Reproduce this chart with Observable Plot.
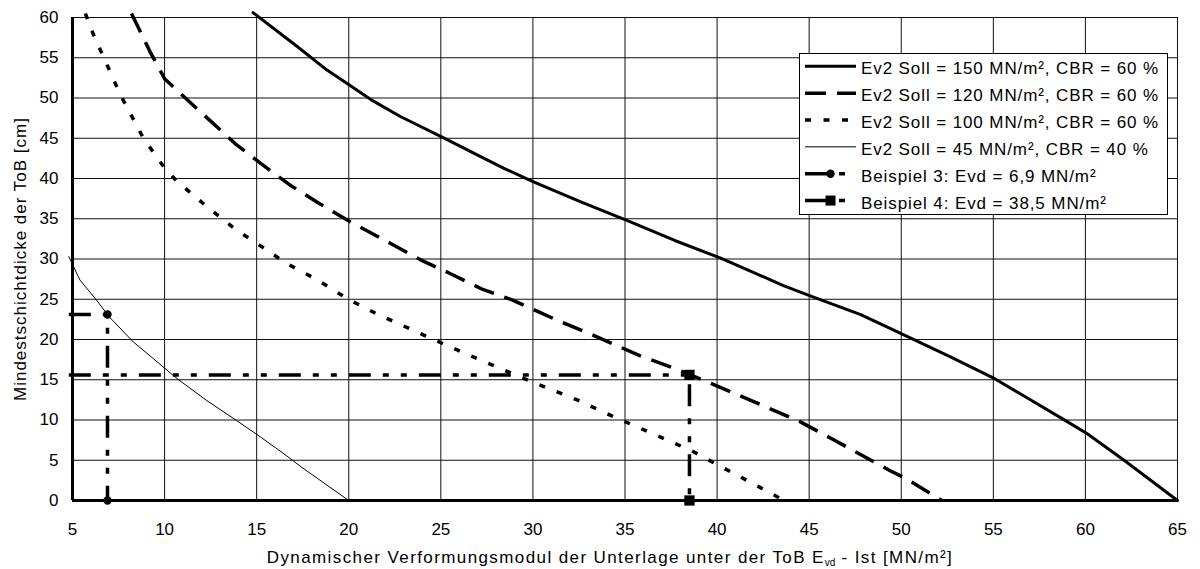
<!DOCTYPE html>
<html>
<head>
<meta charset="utf-8">
<script src="https://cdn.jsdelivr.net/npm/d3@7"></script>
<script src="https://cdn.jsdelivr.net/npm/@observablehq/plot@0.6"></script>
<style>
  html, body { margin: 0; padding: 0; background: #fff; }
  #chart { position: relative; width: 1200px; height: 569px; }
  svg { font-family: "Liberation Sans", Arial, sans-serif; }
</style>
</head>
<body>
<div id="chart"></div>
<script>
// ---- data ----
const xTicks = [5, 10, 15, 20, 25, 30, 35, 40, 45, 50, 55, 60, 65];
const yTicks = [0, 5, 10, 15, 20, 25, 30, 35, 40, 45, 50, 55, 60];

const ev150 = [[14.8,60.6],[17.2,56.4],[18.8,53.5],[21.2,49.8],[22.8,47.7],[25.1,45.1],[27.0,42.9],[28.4,41.3],[30.0,39.6],[32.6,37.1],[35.1,34.8],[37.7,32.3],[40.2,30.1],[43.6,26.7],[45.2,25.3],[47.8,23.1],[50.2,20.5],[52.7,17.8],[55.1,15.1],[57.1,12.4],[58.9,9.95],[60.1,8.3],[62.1,5.0],[65.0,0]];
const ev120 = [[8.2,60.5],[9.2,55.8],[10.0,52.4],[11.6,49.0],[13.9,44.2],[15.2,41.9],[16.8,39.2],[18.4,36.9],[20.1,34.6],[22.3,31.9],[23.9,29.9],[25.5,28.2],[27.2,26.3],[28.9,24.9],[31.5,22.2],[33.2,20.6],[35.8,18.0],[37.7,16.4],[39.3,14.9],[40.9,13.35],[44.5,9.8],[46.2,7.7],[49.4,3.7],[50.2,2.8],[52.2,0]];
const ev100 = [[5.7,60.5],[6.0,58.6],[6.8,54.5],[7.6,50.4],[8.85,45.0],[10.0,41.3],[10.7,39.6],[12.3,36.5],[13.9,33.6],[15.7,30.9],[16.5,29.6],[18.3,27.4],[19.9,25.1],[21.5,23.2],[23.3,21.35],[25.1,19.5],[27.2,17.4],[29.1,15.55],[30.0,14.7],[32.4,12.5],[34.1,10.7],[36.8,8.0],[38.6,6.2],[40.1,4.35],[43.0,0.8],[43.4,0.3]];
const ev45 = [[4.8,30.3],[5.4,27.4],[6.3,24.9],[7.0,22.8],[8.3,19.7],[9.4,17.6],[10.7,15.1],[12.3,12.4],[13.9,9.95],[15.2,7.9],[16.6,5.6],[17.4,4.2],[20.0,0]];
const bsp3Line = [[4.8,23.1],[6.9,23.1],[6.9,0]];
const bsp3Pts  = [[6.9,23.1],[6.9,0]];
const bsp4Line = [[4.8,15.6],[38.5,15.6],[38.5,0]];
const bsp4Pts  = [[38.5,15.6],[38.5,0]];

const legendLabels = [
  "Ev2 Soll = 150 MN/m², CBR = 60 %",
  "Ev2 Soll = 120 MN/m², CBR = 60 %",
  "Ev2 Soll = 100 MN/m², CBR = 60 %",
  "Ev2 Soll = 45 MN/m², CBR = 40 %",
  "Beispiel 3: Evd = 6,9 MN/m²",
  "Beispiel 4: Evd = 38,5 MN/m²"
];

// ---- styles ----
const styles = [
  {w: 3,   dash: null},
  {w: 3.5, dash: "21,11"},
  {w: 3.5, dash: "6,12.5"},
  {w: 1,   dash: null},
  {w: 3.5, dash: "22,12,6,12,6,12", marker: "circle"},
  {w: 3.5, dash: "22,12,6,12,6,12", marker: "square"}
];
const BLACK = "#000";
const FS = 17;

const plot = Plot.plot({
  width: 1200,
  height: 569,
  marginLeft: 72,
  marginRight: 23,
  marginTop: 17,
  marginBottom: 69,
  style: {fontFamily: "'Liberation Sans', Arial, sans-serif", fontSize: FS + "px", color: "#000", background: "#fff", overflow: "visible"},
  x: {domain: [5, 65], ticks: xTicks},
  y: {domain: [0, 60], ticks: yTicks},
  marks: [
    Plot.gridX(xTicks, {stroke: "#111", strokeOpacity: 1, strokeWidth: 1}),
    Plot.gridY(yTicks, {stroke: "#111", strokeOpacity: 1, strokeWidth: 1}),
    Plot.axisX(xTicks, {tickSize: 0, tickPadding: 22, label: null, fontSize: FS}),
    Plot.axisY(yTicks, {tickSize: 0, tickPadding: 14, label: null, fontSize: FS}),
    Plot.line(ev45,  {x: d => d[0], y: d => d[1], stroke: BLACK, strokeWidth: styles[3].w}),
    Plot.line(ev100, {x: d => d[0], y: d => d[1], stroke: BLACK, strokeWidth: styles[2].w, strokeDasharray: styles[2].dash, strokeLinecap: "butt"}),
    Plot.line(ev120, {x: d => d[0], y: d => d[1], stroke: BLACK, strokeWidth: styles[1].w, strokeDasharray: styles[1].dash, strokeLinecap: "butt"}),
    Plot.line(ev150, {x: d => d[0], y: d => d[1], stroke: BLACK, strokeWidth: styles[0].w}),
    Plot.line(bsp3Line, {x: d => d[0], y: d => d[1], stroke: BLACK, strokeWidth: styles[4].w, strokeDasharray: styles[4].dash, strokeLinecap: "butt"}),
    Plot.line(bsp4Line, {x: d => d[0], y: d => d[1], stroke: BLACK, strokeWidth: styles[5].w, strokeDasharray: styles[5].dash, strokeLinecap: "butt"}),
    Plot.ruleX([5], {y1: 0, y2: 60, stroke: BLACK, strokeWidth: 3}),
    Plot.ruleY([0], {x1: 5, x2: 65, stroke: BLACK, strokeWidth: 3}),
    Plot.dot(bsp3Pts, {x: d => d[0], y: d => d[1], r: 4.2, fill: BLACK, stroke: "none", symbol: "circle"}),
    Plot.dot(bsp4Pts, {x: d => d[0], y: d => d[1], r: 5.8, fill: BLACK, stroke: "none", symbol: "square"})
  ]
});

document.getElementById("chart").appendChild(plot);

const svg = d3.select(plot);

// axis titles
const xt = svg.append("text")
  .attr("x", 610).attr("y", 563)
  .attr("text-anchor", "middle")
  .attr("font-size", FS).attr("letter-spacing", 1.4).attr("fill", "#000");
xt.append("tspan").text("Dynamischer Verformungsmodul der Unterlage unter der ToB E");
xt.append("tspan").attr("font-size", 10).attr("dy", 3).attr("letter-spacing", 0).text("vd");
xt.append("tspan").attr("dy", -3).text(" - Ist [MN/m²]");

svg.append("text")
  .attr("transform", "translate(26,259) rotate(-90)")
  .attr("text-anchor", "middle")
  .attr("font-size", FS).attr("letter-spacing", 1).attr("fill", "#000")
  .text("Mindestschichtdicke der ToB [cm]");

// legend
const lg = svg.append("g");
lg.append("rect").attr("x", 799.5).attr("y", 53.5).attr("width", 368).attr("height", 161)
  .attr("fill", "#fff").attr("stroke", "#000").attr("stroke-width", 1);
legendLabels.forEach((lab, i) => {
  const cy = 68.3 + i * 26.85;
  const ly = cy - 2;
  const st = styles[i];
  lg.append("line").attr("x1", 805).attr("x2", 856).attr("y1", ly).attr("y2", ly)
    .attr("stroke", "#000").attr("stroke-width", st.w)
    .attr("stroke-dasharray", st.dash || null);
  if (st.marker === "circle") {
    lg.append("circle").attr("cx", 830.5).attr("cy", ly).attr("r", 4.2).attr("fill", "#000");
  } else if (st.marker === "square") {
    lg.append("rect").attr("x", 825.5).attr("y", ly - 5).attr("width", 10).attr("height", 10).attr("fill", "#000");
  }
  lg.append("text").attr("x", 861).attr("y", cy).attr("dy", "0.36em")
    .attr("text-anchor", "start")
    .attr("font-size", FS).attr("letter-spacing", 0.9).attr("fill", "#000").text(lab);
});
</script>
</body>
</html>
